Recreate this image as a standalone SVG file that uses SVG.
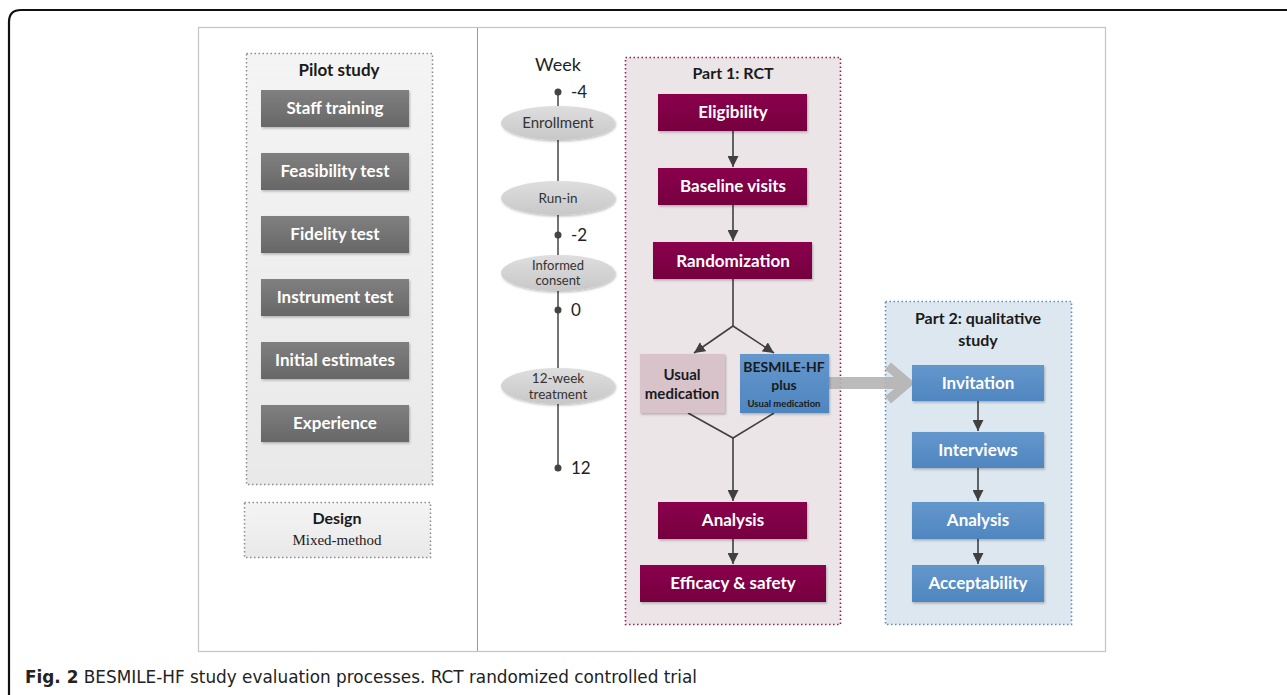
<svg xmlns="http://www.w3.org/2000/svg" width="1287" height="695" viewBox="0 0 1287 695">
  <defs>
    <linearGradient id="gGray" x1="0" y1="0" x2="0" y2="1">
      <stop offset="0" stop-color="#808080"/>
      <stop offset="1" stop-color="#676767"/>
    </linearGradient>
    <linearGradient id="gMaroon" x1="0" y1="0" x2="0" y2="1">
      <stop offset="0" stop-color="#8a004c"/>
      <stop offset="1" stop-color="#75003f"/>
    </linearGradient>
    <linearGradient id="gBlue" x1="0" y1="0" x2="0" y2="1">
      <stop offset="0" stop-color="#6497cc"/>
      <stop offset="1" stop-color="#4f86c0"/>
    </linearGradient>
    <linearGradient id="gPilot" x1="0" y1="0" x2="0" y2="1">
      <stop offset="0" stop-color="#f4f4f4"/>
      <stop offset="1" stop-color="#e9e9e9"/>
    </linearGradient>
    <linearGradient id="gEllipse" x1="0" y1="0" x2="0" y2="1">
      <stop offset="0" stop-color="#dedede"/>
      <stop offset="1" stop-color="#c8c8c8"/>
    </linearGradient>
    <marker id="arr" viewBox="0 0 10 10" refX="10" refY="5" markerWidth="11" markerHeight="11" markerUnits="userSpaceOnUse" orient="auto">
      <path d="M0,0 L10,5 L0,10 z" fill="#404040"/>
    </marker>
    <filter id="shadow" x="-10%" y="-10%" width="130%" height="140%">
      <feDropShadow dx="1" dy="1.5" stdDeviation="1" flood-color="#000" flood-opacity="0.25"/>
    </filter>
  </defs>
  <style>
    .lbl { font-family: Lato, "Open Sans", "Liberation Sans", sans-serif; font-weight: bold; text-anchor: middle; }
    .wt { fill: #ffffff; font-size: 17px; }
    .dk { fill: #1a1a1a; }
    .grayBox { fill: url(#gGray); filter: url(#shadow); }
    .mBox { fill: url(#gMaroon); filter: url(#shadow); }
    .bBox { fill: url(#gBlue); filter: url(#shadow); }
    .ell { fill: url(#gEllipse); filter: url(#shadow); }
    .ellTxt { font-family: Lato, "Open Sans", "Liberation Sans", sans-serif; fill: #333; text-anchor: middle; }
    .wk { font-family: Lato, "Open Sans", "Liberation Sans", sans-serif; fill: #222; }
    .conn { stroke: #404040; stroke-width: 1.6; fill: none; }
  </style>

  <rect width="1287" height="695" fill="#ffffff"/>

  <!-- outer figure frame (runs off the right and bottom edges) -->
  <path d="M1300,10 L21,10 Q9,10 9,22 L9,710" fill="none" stroke="#111" stroke-width="2.2"/>

  <!-- inner panel with divider -->
  <rect x="198.5" y="27.5" width="907" height="624" fill="#ffffff" stroke="#c4c4c4" stroke-width="1.2"/>
  <line x1="477.5" y1="28" x2="477.5" y2="651" stroke="#9a9a9a" stroke-width="1"/>

  <!-- pilot study -->
  <g id="pilot-study">
    <rect x="246.5" y="53.5" width="186" height="431" fill="url(#gPilot)" stroke="#8a8a8a" stroke-width="1.5" stroke-dasharray="1.5 2.5"/>
    <text class="lbl dk" x="339" y="76" font-size="17">Pilot study</text>
  </g>
  <g id="staff-training"><rect class="grayBox" x="261" y="90" width="148" height="37"/><text class="lbl wt" x="335" y="114">Staff training</text></g>
  <g id="feasibility-test"><rect class="grayBox" x="261" y="153" width="148" height="37"/><text class="lbl wt" x="335" y="177">Feasibility test</text></g>
  <g id="fidelity-test"><rect class="grayBox" x="261" y="216" width="148" height="37"/><text class="lbl wt" x="335" y="240">Fidelity test</text></g>
  <g id="instrument-test"><rect class="grayBox" x="261" y="279" width="148" height="37"/><text class="lbl wt" x="335" y="303">Instrument test</text></g>
  <g id="initial-estimates"><rect class="grayBox" x="261" y="342" width="148" height="37"/><text class="lbl wt" x="335" y="366">Initial estimates</text></g>
  <g id="experience"><rect class="grayBox" x="261" y="405" width="148" height="37"/><text class="lbl wt" x="335" y="429">Experience</text></g>

  <g id="design">
    <rect x="244.5" y="502.5" width="186" height="55" fill="url(#gPilot)" stroke="#8a8a8a" stroke-width="1.5" stroke-dasharray="1.5 2.5"/>
    <text class="lbl dk" x="337" y="524" font-size="16">Design</text>
    <text x="337" y="545" font-family="'Liberation Serif', serif" font-size="15" fill="#222" text-anchor="middle">Mixed-method</text>
  </g>

  <!-- week timeline -->
  <g id="timeline">
    <text class="wk" x="558" y="71" text-anchor="middle" font-size="18">Week</text>
    <line x1="558" y1="92" x2="558" y2="468" stroke="#505050" stroke-width="1.6"/>
    <circle cx="558" cy="92" r="3.5" fill="#444"/>
    <circle cx="558" cy="235" r="3.5" fill="#444"/>
    <circle cx="558" cy="310" r="3.5" fill="#444"/>
    <circle cx="558" cy="468" r="3.5" fill="#444"/>
    <text class="wk" x="571" y="98" font-size="17">-4</text>
    <text class="wk" x="571" y="241" font-size="17">-2</text>
    <text class="wk" x="571" y="316" font-size="17">0</text>
    <text class="wk" x="571" y="474" font-size="17">12</text>
  </g>
  <g id="enrollment"><ellipse class="ell" cx="558" cy="123" rx="57" ry="17"/><text class="ellTxt" x="558" y="128" font-size="15">Enrollment</text></g>
  <g id="run-in"><ellipse class="ell" cx="558" cy="198" rx="57" ry="17"/><text class="ellTxt" x="558" y="203" font-size="13.5">Run-in</text></g>
  <g id="informed-consent"><ellipse class="ell" cx="558" cy="273" rx="57" ry="18"/><text class="ellTxt" x="558" y="270" font-size="13">Informed</text><text class="ellTxt" x="558" y="285" font-size="13">consent</text></g>
  <g id="treatment"><ellipse class="ell" cx="558" cy="386" rx="57" ry="18"/><text class="ellTxt" x="558" y="383" font-size="13.5">12-week</text><text class="ellTxt" x="558" y="399" font-size="13.5">treatment</text></g>

  <!-- part 1: RCT -->
  <g id="part1">
    <rect x="625.5" y="57.5" width="215" height="567" fill="#ebe5e8" stroke="#9a1a5a" stroke-width="1.6" stroke-dasharray="1.5 2.5"/>
    <text class="lbl dk" x="733" y="79" font-size="16">Part 1: RCT</text>
  </g>

  <!-- part 2: qualitative study -->
  <g id="part2">
    <rect x="885.5" y="301.5" width="186" height="323" fill="#dde7f0" stroke="#5b8ec6" stroke-width="1.6" stroke-dasharray="1.5 2.5"/>
    <text class="lbl dk" x="978" y="324" font-size="16">Part 2: qualitative</text>
    <text class="lbl dk" x="978" y="346" font-size="16">study</text>
  </g>

  <!-- connectors -->
  <g id="connectors">
    <line class="conn" x1="733" y1="131" x2="733" y2="167" marker-end="url(#arr)"/>
    <line class="conn" x1="733" y1="205" x2="733" y2="241" marker-end="url(#arr)"/>
    <path class="conn" d="M733,279 L733,326"/>
    <line class="conn" x1="733" y1="326" x2="694" y2="353" marker-end="url(#arr)"/>
    <line class="conn" x1="733" y1="326" x2="774" y2="353" marker-end="url(#arr)"/>
    <path class="conn" d="M688,413 L733,438 L774,413"/>
    <line class="conn" x1="733" y1="438" x2="733" y2="501" marker-end="url(#arr)"/>
    <line class="conn" x1="733" y1="539" x2="733" y2="564" marker-end="url(#arr)"/>
    <line class="conn" x1="978" y1="401" x2="978" y2="431" marker-end="url(#arr)"/>
    <line class="conn" x1="978" y1="468" x2="978" y2="501" marker-end="url(#arr)"/>
    <line class="conn" x1="978" y1="539" x2="978" y2="564" marker-end="url(#arr)"/>
    <!-- broad grey transfer arrow -->
    <g opacity="0.9">
      <line x1="829" y1="383" x2="907" y2="383" stroke="#b4b4b4" stroke-width="12"/>
      <path d="M888,366 L908,383 L888,400" fill="none" stroke="#b4b4b4" stroke-width="9"/>
    </g>
  </g>

  <g id="eligibility"><rect class="mBox" x="658" y="94" width="149" height="37"/><text class="lbl wt" x="733" y="118">Eligibility</text></g>
  <g id="baseline-visits"><rect class="mBox" x="658" y="168" width="149" height="37"/><text class="lbl wt" x="733" y="192">Baseline visits</text></g>
  <g id="randomization"><rect class="mBox" x="653" y="242" width="159" height="37"/><text class="lbl wt" x="733" y="267">Randomization</text></g>
  <g id="usual-medication"><rect x="640" y="354" width="85" height="59" fill="#d8c3cb" filter="url(#shadow)"/><text class="lbl dk" x="682" y="380" font-size="15">Usual</text><text class="lbl dk" x="682" y="399" font-size="15">medication</text></g>
  <g id="besmile-hf"><rect class="bBox" x="740" y="354" width="89" height="59"/><text class="lbl dk" x="784" y="372" font-size="14">BESMILE-HF</text><text class="lbl dk" x="784" y="390" font-size="14">plus</text><text class="lbl dk" x="784" y="407" font-size="9.5">Usual medication</text></g>
  <g id="analysis-rct"><rect class="mBox" x="658" y="502" width="149" height="37"/><text class="lbl wt" x="733" y="526">Analysis</text></g>
  <g id="efficacy-safety"><rect class="mBox" x="640" y="565" width="186" height="37"/><text class="lbl wt" x="733" y="589">Efficacy &amp; safety</text></g>

  <g id="invitation"><rect class="bBox" x="912" y="365" width="132" height="36"/><text class="lbl wt" x="978" y="389">Invitation</text></g>
  <g id="interviews"><rect class="bBox" x="912" y="432" width="132" height="36"/><text class="lbl wt" x="978" y="456">Interviews</text></g>
  <g id="analysis-qual"><rect class="bBox" x="912" y="502" width="132" height="37"/><text class="lbl wt" x="978" y="526">Analysis</text></g>
  <g id="acceptability"><rect class="bBox" x="912" y="565" width="132" height="37"/><text class="lbl wt" x="978" y="589">Acceptability</text></g>

  <!-- caption -->
  <text x="25" y="683" font-family="'DejaVu Sans Condensed', 'Liberation Sans', sans-serif" font-size="17" fill="#222" textLength="672" lengthAdjust="spacingAndGlyphs"><tspan font-weight="bold">Fig. 2</tspan> BESMILE-HF study evaluation processes. RCT randomized controlled trial</text>
</svg>
